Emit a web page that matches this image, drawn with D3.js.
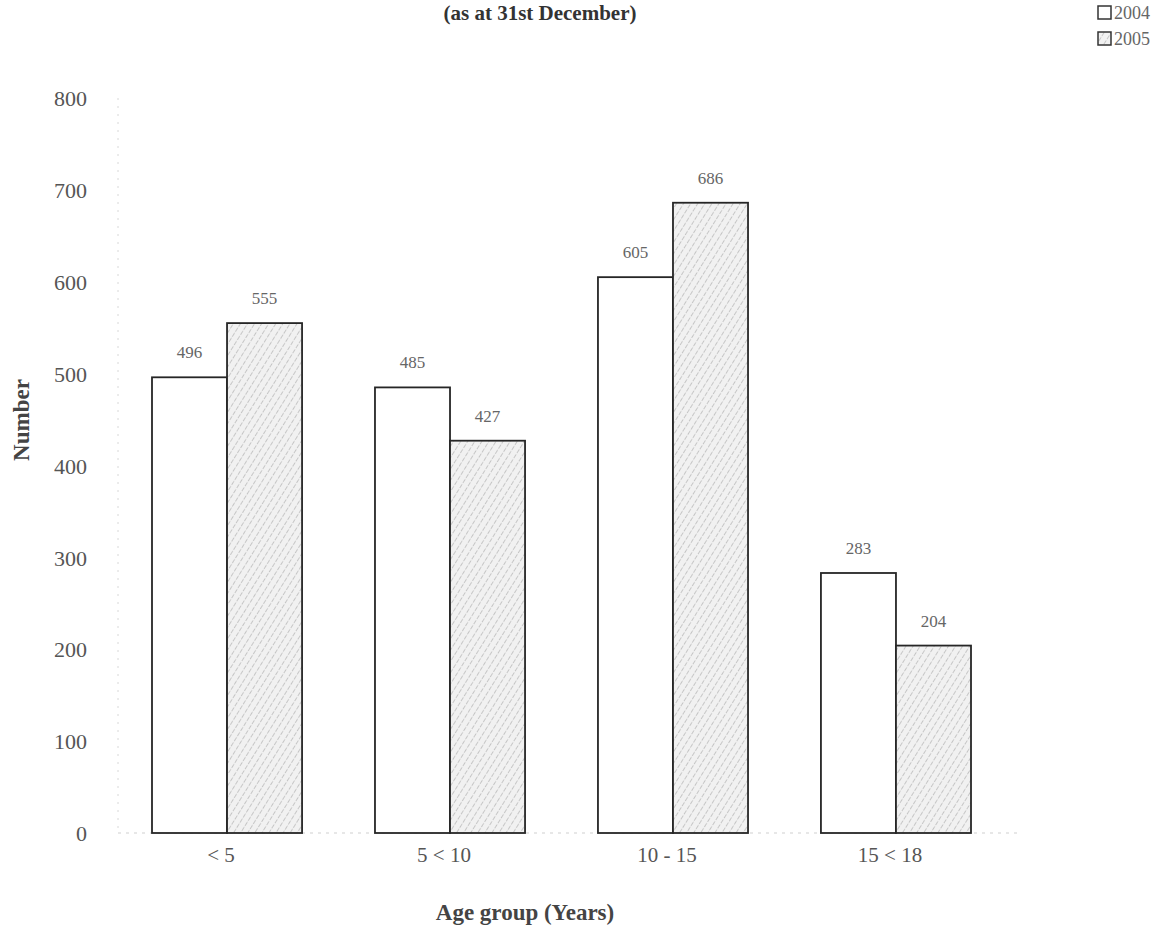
<!DOCTYPE html>
<html>
<head>
<meta charset="utf-8">
<script src="https://cdn.jsdelivr.net/npm/d3@7"></script>
<style>
  html, body { margin: 0; padding: 0; background: #fff; }
  svg { display: block; }
</style>
</head>
<body>
<script>
// Children by age group, as at 31st December
const categories = ["< 5", "5 < 10", "10 - 15", "15 < 18"];
const seriesNames = ["2004", "2005"];
const values2004 = [496, 485, 605, 283];
const values2005 = [555, 427, 686, 204];
const yTicks = [0, 100, 200, 300, 400, 500, 600, 700, 800];

const W = 1158, H = 946;
const svg = d3.select("body").append("svg").attr("width", W).attr("height", H);

// Light diagonal hatch for the 2005 series
const defs = svg.append("defs");
const pat = defs.append("pattern")
  .attr("id", "hatch").attr("patternUnits", "userSpaceOnUse")
  .attr("width", 6).attr("height", 6)
  .attr("patternTransform", "rotate(32)");
pat.append("rect").attr("width", 6).attr("height", 6).attr("fill", "#f1f1f1");
pat.append("line").attr("x1", 0).attr("y1", 0).attr("x2", 0).attr("y2", 6)
  .attr("stroke", "#9c9c9c").attr("stroke-width", 1).attr("stroke-dasharray", "3,1.5");

const plot = { top: 98, bottom: 833 };

const x0 = d3.scaleBand().domain(categories)
  .range([152, 971]).paddingInner(0.327).paddingOuter(0);
const x1 = d3.scaleBand().domain(seriesNames).range([0, x0.bandwidth()]);
const y = d3.scaleLinear().domain([0, 800]).range([plot.bottom, plot.top]);

const serif = "'Liberation Serif', 'DejaVu Serif', serif";

// Title
svg.append("text").attr("x", 540).attr("y", 20)
  .attr("text-anchor", "middle").attr("font-family", serif)
  .attr("font-weight", "bold").attr("font-size", 21).attr("fill", "#333")
  .text("(as at 31st December)");

// Faint axis lines
svg.append("line").attr("x1", 118).attr("x2", 118)
  .attr("y1", plot.top).attr("y2", plot.bottom)
  .attr("stroke", "#d8d8d8").attr("stroke-dasharray", "2,6");
svg.append("line").attr("x1", 118).attr("x2", 1020)
  .attr("y1", plot.bottom).attr("y2", plot.bottom)
  .attr("stroke", "#cfcfcf").attr("stroke-dasharray", "3,5");

// Y axis labels
const yAxis = d3.axisLeft(y).tickValues(yTicks).tickSize(0).tickPadding(0);
const gy = svg.append("g").attr("transform", "translate(87,0)").call(yAxis);
gy.select(".domain").remove();
gy.selectAll("text").attr("font-family", serif).attr("font-size", 22)
  .attr("fill", "#555").attr("dy", "0.35em");

// X axis labels
const xAxis = d3.axisBottom(x0).tickSize(0).tickPadding(0);
const gx = svg.append("g").attr("transform", "translate(-6,847)").call(xAxis);
gx.select(".domain").remove();
gx.selectAll("text").attr("font-family", serif).attr("font-size", 21)
  .attr("fill", "#555").attr("dy", "0.71em");

// Axis titles
svg.append("text").attr("x", 525).attr("y", 920)
  .attr("text-anchor", "middle").attr("font-family", serif)
  .attr("font-weight", "bold").attr("font-size", 23).attr("fill", "#444")
  .text("Age group (Years)");
svg.append("text")
  .attr("transform", "translate(29,420) rotate(-90)")
  .attr("text-anchor", "middle").attr("font-family", serif)
  .attr("font-weight", "bold").attr("font-size", 23).attr("fill", "#444")
  .text("Number");

// Bars
const rows = categories.map((c, i) => ({
  cat: c,
  vals: [{ s: "2004", v: values2004[i] }, { s: "2005", v: values2005[i] }]
}));
const groups = svg.append("g").selectAll("g").data(rows).join("g")
  .attr("transform", d => `translate(${x0(d.cat)},0)`);
groups.selectAll("rect").data(d => d.vals).join("rect")
  .attr("x", d => x1(d.s)).attr("width", x1.bandwidth())
  .attr("y", d => y(d.v)).attr("height", d => y(0) - y(d.v))
  .attr("fill", d => d.s === "2004" ? "#ffffff" : "url(#hatch)")
  .attr("stroke", "#262626").attr("stroke-width", 1.8);
groups.selectAll("text").data(d => d.vals).join("text")
  .attr("x", d => x1(d.s) + x1.bandwidth() / 2)
  .attr("y", d => y(d.v) - 19)
  .attr("text-anchor", "middle").attr("font-family", serif)
  .attr("font-size", 17).attr("fill", "#666")
  .text(d => d.v);

// Legend
const legend = svg.append("g").attr("transform", "translate(1098,4)");
seriesNames.forEach((s, i) => {
  const g = legend.append("g").attr("transform", `translate(0,${i * 26})`);
  g.append("rect").attr("x", 0).attr("y", 2).attr("width", 13).attr("height", 13)
    .attr("fill", s === "2004" ? "#fff" : "url(#hatch)")
    .attr("stroke", "#333").attr("stroke-width", 1.5);
  g.append("text").attr("x", 16).attr("y", 15)
    .attr("font-family", serif).attr("font-size", 18).attr("fill", "#666")
    .text(s);
});
</script>
</body>
</html>
